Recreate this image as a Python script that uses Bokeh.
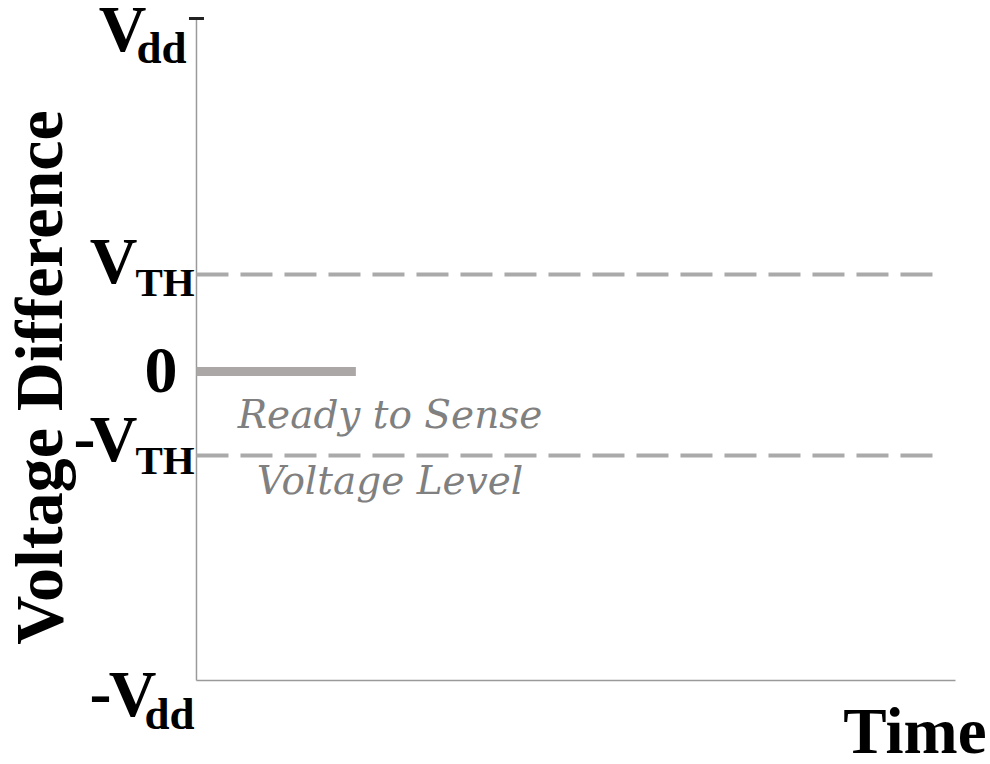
import math
from bokeh.plotting import figure
from bokeh.models import Range1d, Label
from bokeh.embed import file_html
from bokeh.resources import INLINE

# ---- data ----
level_vdd = 1.0
level_vth = 0.275
level_zero = 0.0
level_mvth = -0.238
level_mvdd = -0.875

time_start = 0.0
time_end = 100.0
ready_line_t = [0.0, 21.0]          # solid level held at 0
threshold_t = [0.0, 97.2]           # dashed threshold lines
annotation_t = 25.5
annotation_lines = ["Ready to Sense", "Voltage Level"]

BOLD_FONT = "Liberation Serif"
ITAL_FONT = "DejaVu Serif"

W, H = 990, 764
p = figure(width=W, height=H, output_backend="svg", toolbar_location=None,
           x_range=Range1d(time_start - 25.82, time_end + 4.61),
           y_range=Range1d(level_mvdd - 0.238, level_vdd + 0.051),
           x_axis_location=None, y_axis_location=None,
           min_border=0)
p.grid.visible = False
p.outline_line_color = None
p.background_fill_color = "white"
p.border_fill_color = "white"

AX = "#9a9a9a"
# axis lines (time axis at -Vdd, voltage axis at t=0)
p.segment(x0=[time_start, time_start], y0=[level_mvdd, level_mvdd],
          x1=[time_end, time_start], y1=[level_mvdd, level_vdd],
          line_color=AX, line_width=1.5)
# single tick at Vdd
p.scatter([time_start], [level_vdd], marker="dash", size=15,
          line_color="#222222", line_width=3)

# dashed threshold lines
for lv in (level_vth, level_mvth):
    p.line(threshold_t, [lv, lv], line_color="#aaaaaa", line_width=4,
           line_dash="32 12", line_cap="butt")

# solid 'ready' line at 0
p.line(ready_line_t, [level_zero, level_zero], line_color="#aca7a7",
       line_width=9, line_cap="butt")


def lab(y, text, xoff, yoff, size, align, color="black", style="bold", x=0.0,
        angle=0.0, baseline="alphabetic", font=BOLD_FONT):
    p.add_layout(Label(x=x, y=y, text=text, x_offset=xoff, y_offset=yoff,
                       text_font=font, text_font_size=f"{size}px",
                       text_font_style=style, text_color=color,
                       text_align=align, text_baseline=baseline, angle=angle))


BIG = 66
SUB = 45
SUBT = 41
# Vdd
lab(level_vdd, "V", -50, -10, BIG, "right")
lab(level_vdd, "dd", -60, -29, SUB, "left")
# VTH
lab(level_vth, "V", -59, 14, BIG, "right")
lab(level_vth, "TH", -61, -8, SUBT, "left")
# 0
lab(level_zero, "0", -19, 1, BIG, "right")
# -VTH
lab(level_mvth, "-", -101, 17, BIG, "right")
lab(level_mvth, "V", -59, 17, BIG, "right")
lab(level_mvth, "TH", -61, -4, SUBT, "left")
# -Vdd
lab(level_mvdd, "-", -85, -13, BIG, "right")
lab(level_mvdd, "V", -40, -13, BIG, "right")
lab(level_mvdd, "dd", -52, -34, SUB, "left")

# axis titles
lab(level_zero, "Voltage Difference", -157, -6, 68, "center", angle=math.pi / 2,
    baseline="middle")
lab(level_mvdd, "Time", 31, -51, 65, "right", x=time_end)

# annotation
lab(level_mvth, annotation_lines[0], 0, 41, 39, "center", color="#808080",
    style="italic", x=annotation_t, font=ITAL_FONT)
lab(level_mvth, annotation_lines[1], 0, -25, 39, "center", color="#808080",
    style="italic", x=annotation_t, font=ITAL_FONT)

open("out.html", "w").write(file_html(p, INLINE))
